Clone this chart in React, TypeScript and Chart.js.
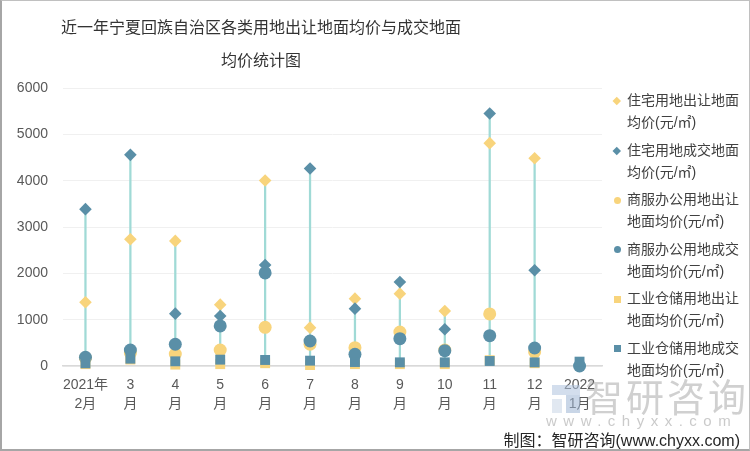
import React, { useEffect, useRef } from "react";
import { Chart, registerables } from "chart.js";

Chart.register(...registerables);

const titleLines = ["近一年宁夏回族自治区各类用地出让地面均价与成交地面", "均价统计图"];
const categories: string[][] = [
  ["2021年", "2月"], ["3", "月"], ["4", "月"], ["5", "月"], ["6", "月"], ["7", "月"],
  ["8", "月"], ["9", "月"], ["10", "月"], ["11", "月"], ["12", "月"], ["2022", "1月"],
];
const resListing = [1376, 2736, 2700, 1324, 4003, 828, 1454, 1562, 1188, 4810, 4485, null];
const resDeal = [3385, 4557, 1130, 1080, 2181, 4262, 1238, 1814, 792, 5450, 2067, null];
const comListing = [170, 280, 259, 345, 835, 469, 396, 734, 345, 1123, 302, null];
const comDeal = [188, 345, 469, 864, 2009, 540, 252, 590, 331, 655, 389, 0];
const indListing = [40, 140, 30, 40, 60, 20, 40, 40, 40, 125, 60, null];
const indDeal = [58, 158, 101, 137, 130, 115, 86, 79, 79, 108, 79, 94];
const seriesNames = [
  ["住宅用地出让地面", "均价(元/㎡)"],
  ["住宅用地成交地面", "均价(元/㎡)"],
  ["商服办公用地出让", "地面均价(元/㎡)"],
  ["商服办公用地成交", "地面均价(元/㎡)"],
  ["工业仓储用地出让", "地面均价(元/㎡)"],
  ["工业仓储用地成交", "地面均价(元/㎡)"],
];
const yTicks = [0, 1000, 2000, 3000, 4000, 5000, 6000];

const YELLOW = "#F8D47C";
const BLUE = "#5A8FA7";
const LINE = "#A0DAD6";
const FONT = "'Liberation Sans', 'Noto Sans CJK SC', sans-serif";

const allSeries = [resListing, resDeal, comListing, comDeal, indListing, indDeal];
const styles = ["rectRot", "rectRot", "circle", "circle", "rect", "rect"];
const colors = [YELLOW, BLUE, YELLOW, BLUE, YELLOW, BLUE];
const radii = [6.3, 6.3, 6.5, 6.5, 7, 7];

export default function App() {
  const ref = useRef<HTMLCanvasElement>(null);
  useEffect(() => {
    if (!ref.current) return;
    const ranges = categories.map((_, i) => {
      const vals = allSeries.map((s) => s[i]).filter((v) => v !== null) as number[];
      return [Math.min(...vals), Math.max(...vals)];
    });
    const datasets: any[] = [
      {
        type: "bar",
        data: ranges,
        backgroundColor: LINE,
        borderWidth: 0,
        barThickness: 1.6,
        maxBarThickness: 1.6,
        order: 20,
      },
      ...allSeries.map((s, i) => ({
        type: "line",
        label: seriesNames[i].join(""),
        data: s,
        showLine: false,
        clip: false,
        pointStyle: styles[i],
        pointRadius: radii[i],
        pointHoverRadius: radii[i],
        pointBackgroundColor: colors[i],
        pointBorderWidth: 0,
        borderColor: colors[i],
        backgroundColor: colors[i],
        order: 10 - i,
      })),
    ];
    const chart = new Chart(ref.current, {
      type: "bar",
      data: { labels: categories, datasets },
      options: {
        animation: false,
        responsive: false,
        layout: { padding: { left: 8, right: 148, top: 88, bottom: 0 } },
        plugins: { legend: { display: false }, title: { display: false }, tooltip: { enabled: false } },
        scales: {
          x: {
            offset: true,
            grid: { display: false, drawTicks: false },
            border: { display: true, color: "#D9D9D9", width: 1.5 },
            ticks: {
              color: "#595959",
              font: { size: 14, family: FONT, lineHeight: 1.4 },
              padding: 9,
              maxRotation: 0,
              autoSkip: false,
            },
            afterFit: (scale: any) => { scale.height = 85; },
          },
          y: {
            min: 0,
            max: 6000,
            afterBuildTicks: (scale: any) => { scale.ticks = yTicks.map((v) => ({ value: v })); },
            grid: { color: "#F0F0F0", drawTicks: false },
            border: { display: false },
            ticks: {
              color: "#595959",
              font: { size: 14, family: FONT },
              padding: 15,
              callback: (v: any) => String(v),
            },
            afterFit: (scale: any) => { scale.width = 55; },
          },
        },
      },
    });
    return () => chart.destroy();
  }, []);

  const legendTop = 89;
  const legendStep = 49.5;

  return (
    <div style={{ position: "absolute", left: 0, top: 0, width: 750, height: 451, background: "#fff", overflow: "hidden", fontFamily: FONT }}>
      <canvas ref={ref} width={750} height={451} style={{ position: "absolute", left: 0, top: 0 }} />
      <div style={{ position: "absolute", left: 11, width: 500, top: 10, textAlign: "center", fontSize: 16, lineHeight: "33px", color: "#333", whiteSpace: "nowrap", fontFamily: "'Noto Sans CJK SC', serif" }}>
        {titleLines.map((t, i) => (<div key={i}>{t}</div>))}
      </div>
      {seriesNames.map((n, i) => (
        <div key={i} style={{ position: "absolute", left: 612, top: legendTop + i * legendStep, fontSize: 14, lineHeight: "22px", color: "#404040" }}>
          <div style={{ position: "absolute", left: 0, top: 7, width: 10, height: 10, display: "flex", alignItems: "center", justifyContent: "center" }}>
            {i < 2 && <div style={{ width: 5.5, height: 5.5, background: colors[i], transform: "rotate(45deg)" }} />}
            {i >= 2 && i < 4 && <div style={{ width: 7, height: 7, borderRadius: "50%", background: colors[i] }} />}
            {i >= 4 && <div style={{ width: 7, height: 7, background: colors[i] }} />}
          </div>
          <div style={{ marginLeft: 15, whiteSpace: "nowrap" }}>
            <div>{n[0]}</div>
            <div>{n[1]}</div>
          </div>
        </div>
      ))}
      <div style={{ position: "absolute", left: 548, top: 381, width: 36, height: 36, pointerEvents: "none", opacity: 0.55 }}>
        <div style={{ position: "absolute", left: 4, top: 4, width: 28, height: 10, background: "#AFC4DE" }} />
        <div style={{ position: "absolute", left: 4, top: 18, width: 10, height: 14, background: "#C9D6E6" }} />
        <div style={{ position: "absolute", left: 18, top: 14, width: 14, height: 18, background: "#9DB5D3" }} />
      </div>
      <div style={{ position: "absolute", left: 585, top: 376, fontSize: 38, lineHeight: "44px", color: "rgba(150,150,150,0.45)", letterSpacing: 3, whiteSpace: "nowrap", pointerEvents: "none" }}>智研咨询</div>
      <div style={{ position: "absolute", left: 546, top: 412, fontSize: 15, lineHeight: "18px", color: "rgba(150,150,150,0.5)", letterSpacing: 6.5, whiteSpace: "nowrap", pointerEvents: "none" }}>www.chyxx.com</div>
      <div style={{ position: "absolute", right: 10, top: 431, fontSize: 16, lineHeight: "20px", color: "#262626", whiteSpace: "nowrap" }}>制图：智研咨询(www.chyxx.com)</div>
      <div style={{ position: "absolute", left: 0, top: 0, width: 750, height: 451, boxSizing: "border-box", border: "2px solid #A6A6A6", borderTop: "1px solid #C0C0C0", borderRight: "1px solid #C0C0C0", pointerEvents: "none" }} />
    </div>
  );
}
